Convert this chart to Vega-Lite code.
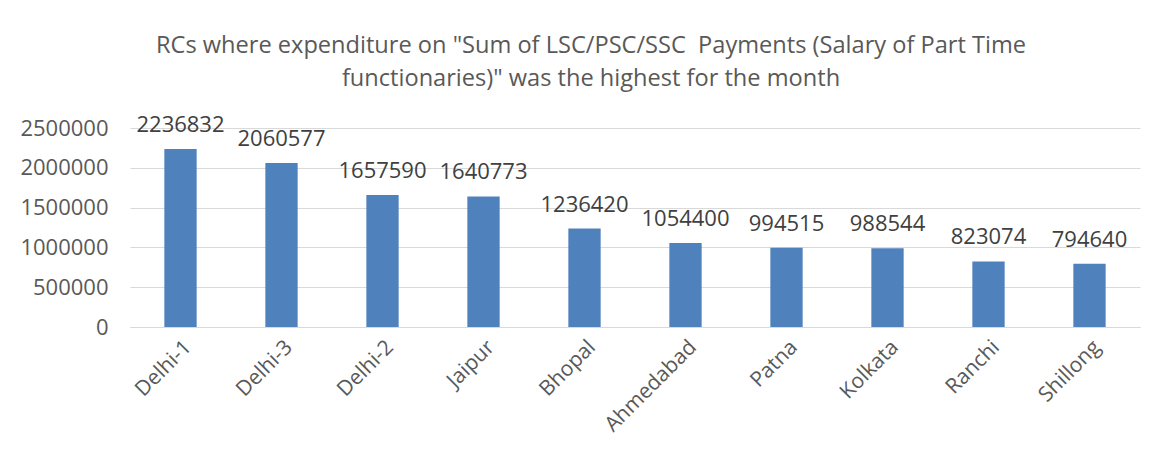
{
  "$schema": "https://vega.github.io/schema/vega-lite/v6.json",
  "width": 1010,
  "height": 199,
  "autosize": "none",
  "padding": {"left": 130, "top": 128, "right": 18, "bottom": 130},
  "background": "white",
  "title": {
    "text": ["RCs where expenditure on \"Sum of LSC/PSC/SSC\u00a0 Payments (Salary of Part Time", "functionaries)\" was the highest for the month"],
    "anchor": "middle",
    "frame": "group",
    "dx": -44,
    "offset": 23,
    "fontSize": 23.6,
    "lineHeight": 33,
    "font": "Open Sans",
    "fontWeight": "normal",
    "color": "#595959"
  },
  "data": {
    "values": [
      {"rc": "Delhi-1", "amount": 2236832},
      {"rc": "Delhi-3", "amount": 2060577},
      {"rc": "Delhi-2", "amount": 1657590},
      {"rc": "Jaipur", "amount": 1640773},
      {"rc": "Bhopal", "amount": 1236420},
      {"rc": "Ahmedabad", "amount": 1054400},
      {"rc": "Patna", "amount": 994515},
      {"rc": "Kolkata", "amount": 988544},
      {"rc": "Ranchi", "amount": 823074},
      {"rc": "Shillong", "amount": 794640}
    ]
  },
  "encoding": {
    "x": {
      "field": "rc", "type": "nominal", "sort": null,
      "scale": {"paddingInner": 0.68, "paddingOuter": 0.34},
      "axis": {"title": null, "labelAngle": -45, "labelFontSize": 21, "labelFont": "Open Sans", "labelColor": "#595959", "ticks": false, "domainColor": "#d9d9d9", "labelPadding": 9, "grid": false}
    },
    "y": {
      "field": "amount", "type": "quantitative",
      "scale": {"domain": [0, 2500000], "nice": false},
      "axis": {"title": null, "values": [0, 500000, 1000000, 1500000, 2000000, 2500000], "format": "d", "labelFontSize": 22, "labelFont": "Open Sans", "labelColor": "#595959", "ticks": false, "domain": false, "gridColor": "#d9d9d9", "labelPadding": 22}
    }
  },
  "layer": [
    {"mark": {"type": "bar", "color": "#4F81BD"}},
    {"mark": {"type": "text", "dy": -17, "baseline": "alphabetic", "fontSize": 22, "font": "Open Sans", "color": "#404040"},
     "encoding": {"text": {"field": "amount", "type": "quantitative", "format": "d"}}}
  ],
  "config": {"view": {"stroke": null}}
}
